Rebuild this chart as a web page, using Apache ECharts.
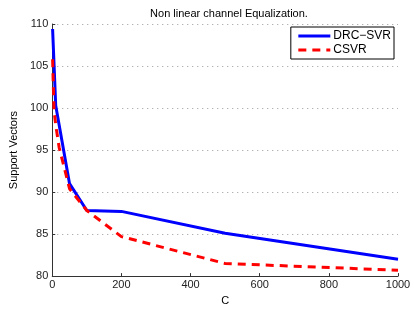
<!DOCTYPE html>
<html>
<head>
<meta charset="utf-8">
<script src="https://cdn.jsdelivr.net/npm/echarts@6/dist/echarts.min.js"></script>
<style>html,body{margin:0;padding:0;background:#fff}#c{width:414px;height:311px}</style>
</head>
<body>
<div id="c"></div>
<script>
var titleText = 'Non linear channel Equalization.';
var xLabel = 'C';
var yLabel = 'Support Vectors';
var seriesNames = ['DRC\u2212SVR', 'CSVR'];
var drcC = [1, 10, 50, 100, 200, 500, 1000];
var drcSV = [109.4, 100.3, 91.0, 87.8, 87.7, 85.1, 82.0];
var csvrC = [1, 5, 10, 20, 50, 100, 200, 500, 1000];
var csvrSV = [105.8, 99.8, 98.0, 95.3, 90.4, 87.8, 84.7, 81.5, 80.7];

function pairs(xs, ys){ return xs.map(function(x,i){ return [x, ys[i]]; }); }

var font = 'Liberation Sans, Arial, sans-serif';
var chart = echarts.init(document.getElementById('c'));
chart.setOption({
  animation: false,
  backgroundColor: '#fff',
  title: {
    text: titleText, left: 224, top: 3, textAlign: 'center',
    textStyle: {fontSize: 11, fontWeight: 'normal', color: '#000', fontFamily: font}
  },
  legend: {
    right: 20, top: 27, orient: 'vertical',
    backgroundColor: '#fff', borderColor: '#000', borderWidth: 1,
    padding: [3, 3, 3, 6], itemGap: 2, itemWidth: 32, itemHeight: 12,
    itemStyle: {opacity: 0},
    lineStyle: {width: 3},
    textStyle: {fontSize: 12, color: '#000', fontFamily: font, padding: [0, 0, 0, -2]},
    data: seriesNames
  },
  grid: {left: 50, right: 16, top: 24, bottom: 28},
  xAxis: {
    type: 'value', min: 0, max: 1000, interval: 200,
    name: xLabel, nameLocation: 'middle', nameGap: 13,
    nameTextStyle: {fontSize: 11, color: '#000', fontFamily: font},
    axisLine: {show: true, lineStyle: {color: '#333', width: 1}},
    axisTick: {show: true, inside: true, length: 3, lineStyle: {color: '#333'}},
    axisLabel: {fontSize: 11, color: '#222', fontFamily: font, margin: 3,
      formatter: function(v){ return String(v); }},
    splitLine: {show: false}
  },
  yAxis: {
    type: 'value', min: 80, max: 110, interval: 5,
    name: yLabel, nameLocation: 'middle', nameGap: 26, nameRotate: 90,
    nameTextStyle: {fontSize: 11, color: '#000', fontFamily: font},
    axisLine: {show: true, lineStyle: {color: '#333', width: 1}},
    axisTick: {show: true, inside: true, length: 3, lineStyle: {color: '#333'}},
    axisLabel: {fontSize: 11, color: '#222', fontFamily: font, margin: 4},
    splitLine: {show: true, lineStyle: {color: '#999', type: [1, 4], width: 1}}
  },
  series: [
    {
      name: seriesNames[0], type: 'line', symbol: 'none',
      data: pairs(drcC, drcSV),
      lineStyle: {color: '#0000ff', width: 3},
      itemStyle: {color: '#0000ff'}, z: 3
    },
    {
      name: seriesNames[1], type: 'line', symbol: 'none',
      data: pairs(csvrC, csvrSV),
      lineStyle: {color: '#ff0000', width: 3, type: [8, 6]},
      itemStyle: {color: '#ff0000'}, z: 4
    }
  ]
});
</script>
</body>
</html>
